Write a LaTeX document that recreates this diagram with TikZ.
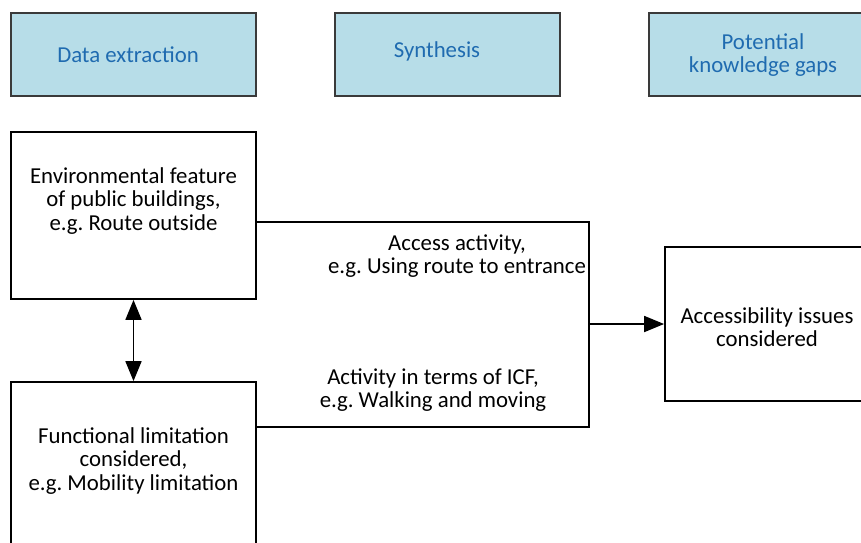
\documentclass[tikz,border=0pt]{standalone}
\usepackage{fontspec}
\setmainfont{Carlito}
\usetikzlibrary{arrows.meta}
\definecolor{hdrfill}{HTML}{B7DDE8}
\definecolor{hdrtext}{HTML}{1F6BB0}
\definecolor{hdrdraw}{HTML}{3A3A3A}
\tikzset{
  hdr/.style={draw=hdrdraw, line width=1.8pt, fill=hdrfill, inner sep=0pt},
  box/.style={draw=black, line width=1.8pt, fill=white, inner sep=0pt},
  txt/.style={align=center, font=\fontsize{22.8}{23.5}\selectfont, inner sep=0pt},
  htxt/.style={txt, text=hdrtext},
  conn/.style={line width=1.8pt, draw=black},
  tip/.style={-{Triangle[length=20pt,width=16pt]}},
  dtip/.style={{Triangle[length=20pt,width=16pt]}-{Triangle[length=20pt,width=16pt]}},
}
\frenchspacing
\begin{document}
\begin{tikzpicture}[x=1pt,y=-1pt]
\useasboundingbox (0,0) rectangle (861,542);
% header boxes
\node[hdr, minimum width=245pt, minimum height=83pt] (h1) at (133.5,54.5) {};
\node[htxt] (h1t) at (128,55) {Data extraction};
\node[hdr, minimum width=225pt, minimum height=83pt] (h2) at (447.5,54.5) {};
\node[htxt] (h2t) at (437,51) {Synthesis};
\node[hdr, minimum width=230pt, minimum height=83pt] (h3) at (764,54.5) {};
\node[htxt] (h3t) at (763,55) {Potential\\knowledge gaps};
% content boxes
\node[box, minimum width=245pt, minimum height=167pt] (env) at (133.5,215.5) {};
\node[txt] (envt) at (133.5,201) {Environmental feature\\of public buildings,\\e.g. Route outside};
\node[box, minimum width=245pt, minimum height=190pt] (func) at (133.5,477) {};
\node[txt] (funct) at (133.5,461) {Functional limitation\\considered,\\e.g. Mobility limitation};
\node[box, minimum width=204pt, minimum height=154pt] (acc) at (767,324) {};
\node[txt] (acct) at (767,327) {Accessibility issues\\considered};
% bracket
\coordinate (b1) at (589,222);
\coordinate (b2) at (589,427);
\draw[conn] (env.east |- b1) -- (b1) -- (b2) -- (func.east |- b2);
\draw[conn, tip] (b1 |- acc.west) -- (acc.west);
\node[txt] (lab1) at (457,256) {Access activity,\\e.g. Using route to entrance};
\node[txt] (lab2) at (433,390) {Activity in terms of ICF,\\e.g. Walking and moving};
% double arrow
\draw[conn, dtip] (env.south) -- (func.north);
\end{tikzpicture}
\end{document}
